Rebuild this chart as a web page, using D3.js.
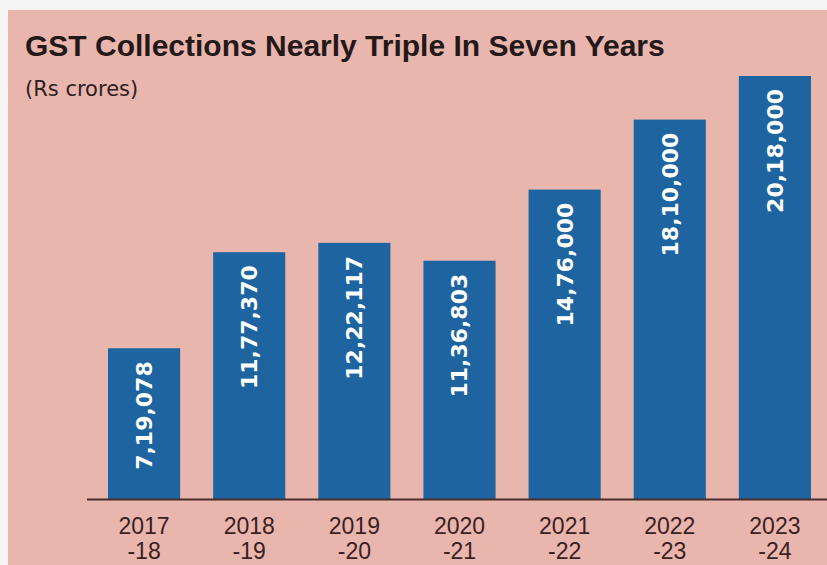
<!DOCTYPE html>
<html>
<head>
<meta charset="utf-8">
<script src="https://cdn.jsdelivr.net/npm/d3@7"></script>
<style>
  html, body { margin: 0; padding: 0; background: #f6f5f5; }
</style>
</head>
<body>
<div id="chart"></div>
<script>
// values (Rs crores)
var years = ["2017-18", "2018-19", "2019-20", "2020-21", "2021-22", "2022-23", "2023-24"];
var yearTop = ["2017", "2018", "2019", "2020", "2021", "2022", "2023"];
var yearBottom = ["-18", "-19", "-20", "-21", "-22", "-23", "-24"];
var collections = [719078, 1177370, 1222117, 1136803, 1476000, 1810000, 2018000];
var valueLabels = ["7,19,078", "11,77,370", "12,22,117", "11,36,803", "14,76,000", "18,10,000", "20,18,000"];

var width = 827,
    height = 565,
    baseline = 499;

var svg = d3.select("#chart").append("svg")
    .attr("width", width)
    .attr("height", height);

// pink panel, page shows a thin light strip on top and left
svg.append("rect")
    .attr("x", 8)
    .attr("y", 10)
    .attr("width", width - 8)
    .attr("height", height - 10)
    .attr("fill", "#e9b6ae");

var x = d3.scaleBand()
    .domain(years)
    .range([91.5, 827.5])
    .paddingInner(0.314)
    .paddingOuter(0.157);

var y = d3.scaleLinear()
    .domain([0, d3.max(collections)])
    .range([baseline, 76]);

// title
svg.append("text")
    .attr("x", 25)
    .attr("y", 56)
    .style("font-family", "'Liberation Sans', Arial, sans-serif")
    .style("font-weight", "bold")
    .style("font-size", "30px")
    .attr("fill", "#241818")
    .text("GST Collections Nearly Triple In Seven Years");

svg.append("text")
    .attr("x", 25)
    .attr("y", 96)
    .style("font-family", "'DejaVu Sans', sans-serif")
    .style("font-size", "21px")
    .attr("fill", "#2e2020")
    .text("(Rs crores)");

// bars
svg.append("g")
    .selectAll("rect")
    .data(collections)
    .enter().append("rect")
    .attr("x", function (d, i) { return x(years[i]); })
    .attr("y", function (d) { return y(d); })
    .attr("width", x.bandwidth())
    .attr("height", function (d) { return baseline - y(d); })
    .attr("fill", "#1e64a0");

// rotated value labels near bar tops
svg.append("g")
    .selectAll("text")
    .data(collections)
    .enter().append("text")
    .attr("transform", function (d, i) {
        return "translate(" + (x(years[i]) + x.bandwidth() / 2) + "," + (y(d) + 13) + ") rotate(-90)";
    })
    .attr("dy", "0.36em")
    .style("text-anchor", "end")
    .style("font-family", "'DejaVu Sans', sans-serif")
    .style("font-weight", "bold")
    .style("font-size", "22px")
    .attr("fill", "#ffffff")
    .text(function (d, i) { return valueLabels[i]; });

// baseline
svg.append("line")
    .attr("x1", 87)
    .attr("x2", width)
    .attr("y1", baseline + 0.5)
    .attr("y2", baseline + 0.5)
    .attr("stroke", "#4a2c2a")
    .attr("stroke-width", 2);

// two-line x labels
var xl = svg.append("g")
    .selectAll("text")
    .data(years)
    .enter().append("text")
    .attr("x", function (d) { return x(d) + x.bandwidth() / 2; })
    .attr("y", 534)
    .style("text-anchor", "middle")
    .style("font-family", "'Liberation Sans', Arial, sans-serif")
    .style("font-size", "23px")
    .attr("fill", "#3a2020");

xl.append("tspan")
    .attr("x", function (d) { return x(d) + x.bandwidth() / 2; })
    .text(function (d, i) { return yearTop[i]; });

xl.append("tspan")
    .attr("x", function (d) { return x(d) + x.bandwidth() / 2; })
    .attr("dy", 25)
    .text(function (d, i) { return yearBottom[i]; });
</script>
</body>
</html>
